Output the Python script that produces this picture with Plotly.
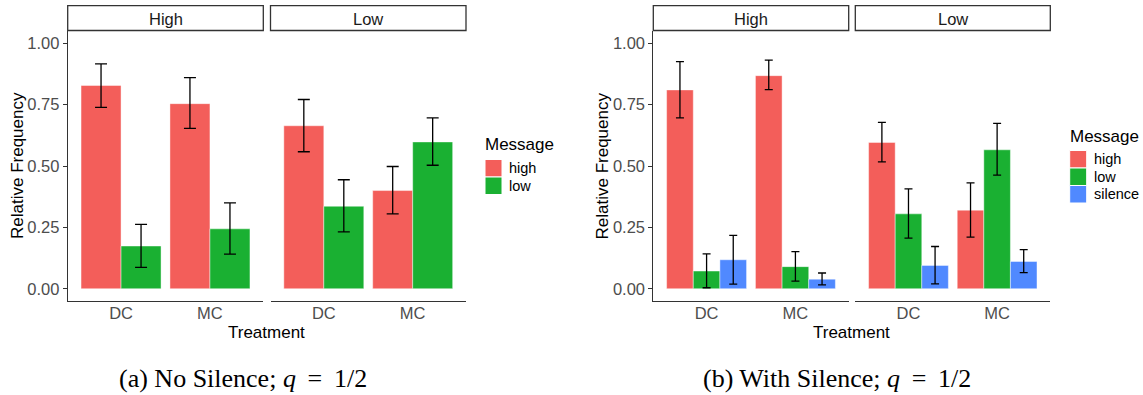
import plotly.graph_objects as go

# ---------------- data ----------------
panels = ["High", "Low"]
treatments = ["DC", "MC"]
messages_a = ["high", "low"]
messages_b = ["high", "low", "silence"]

# order of each list: [High-DC, High-MC, Low-DC, Low-MC]
# (a) No Silence
a_high = [0.828, 0.754, 0.664, 0.400]
a_high_up = [0.916, 0.860, 0.771, 0.498]
a_high_lo = [0.739, 0.653, 0.558, 0.305]
a_low = [0.174, 0.244, 0.336, 0.598]
a_low_up = [0.262, 0.350, 0.444, 0.696]
a_low_lo = [0.087, 0.141, 0.232, 0.503]

# (b) With Silence
b_high = [0.810, 0.868, 0.596, 0.320]
b_high_up = [0.925, 0.931, 0.678, 0.431]
b_high_lo = [0.696, 0.811, 0.517, 0.210]
b_low = [0.072, 0.090, 0.305, 0.566]
b_low_up = [0.142, 0.151, 0.407, 0.674]
b_low_lo = [0.004, 0.031, 0.206, 0.463]
b_silence = [0.118, 0.039, 0.095, 0.111]
b_silence_up = [0.217, 0.064, 0.172, 0.159]
b_silence_lo = [0.019, 0.016, 0.020, 0.066]

y_ticks = [0, 0.25, 0.5, 0.75, 1.0]
y_ticktext = ["0.00", "0.25", "0.50", "0.75", "1.00"]
captions = ["(a) No Silence; <i>q</i>\u2009 = \u20091/2", "(b) With Silence; <i>q</i>\u2009 = \u20091/2"]

colors = {"high": "#F35E5A", "low": "#1AB032", "silence": "#5089FF"}

# ---------------- layout helpers ----------------
W, H = 1143, 395
def px(x):
    return x / W
def py(y):
    return 1 - y / H

FONT = "Liberation Sans, Arial, sans-serif"
TICKC = "#4D4D4D"
LINEC = "#333333"

fig = go.Figure()

# chart (a): x, x2 with y ; chart (b): x3, x4 with y2
charts = [
    dict(msgs=messages_a,
         vals={"high": (a_high, a_high_up, a_high_lo), "low": (a_low, a_low_up, a_low_lo)},
         xaxes=["x", "x2"], yaxis="y", capw=6,
         xdom=[(67.7, 263.3), (270.5, 466.0)]),
    dict(msgs=messages_b,
         vals={"high": (b_high, b_high_up, b_high_lo), "low": (b_low, b_low_up, b_low_lo),
               "silence": (b_silence, b_silence_up, b_silence_lo)},
         xaxes=["x3", "x4"], yaxis="y2", capw=4,
         xdom=[(653.3, 848.7), (855.3, 1050.3)]),
]

for ch in charts:
    for pi, panel in enumerate(panels):
        for m in ch["msgs"]:
            v, up, lo = ch["vals"][m]
            vv = v[pi * 2: pi * 2 + 2]
            uu = up[pi * 2: pi * 2 + 2]
            ll = lo[pi * 2: pi * 2 + 2]
            fig.add_trace(go.Bar(
                x=treatments, y=vv, name=m, showlegend=False,
                xaxis=ch["xaxes"][pi], yaxis=ch["yaxis"],
                marker=dict(color=colors[m], line=dict(color="rgba(255,255,255,0.55)", width=0.8)),
                error_y=dict(type="data", symmetric=False,
                             array=[u - a for u, a in zip(uu, vv)],
                             arrayminus=[a - l for a, l in zip(vv, ll)],
                             color="black", thickness=1.3, width=ch["capw"]),
            ))

y_top, y_bot = 31, 301
ydom = [py(y_bot), py(y_top)]

xcommon = dict(type="category", categoryorder="array", categoryarray=treatments,
               range=[-0.6, 1.6], showgrid=False, zeroline=False, showline=True,
               linecolor=LINEC, linewidth=1, ticks="", ticklen=0, ticklabelstandoff=-3,
               tickfont=dict(family=FONT, size=16.5, color=TICKC), fixedrange=True)
ycommon = dict(range=[-0.05, 1.05], domain=ydom, tickvals=y_ticks, ticktext=y_ticktext,
               showgrid=False, zeroline=False, showline=True, linecolor=LINEC, linewidth=1,
               ticks="outside", ticklen=4, tickcolor=LINEC,
               tickfont=dict(family=FONT, size=16.5, color=TICKC), fixedrange=True)

fig.update_layout(
    xaxis=dict(xcommon, domain=[px(67.7), px(263.3)], anchor="y"),
    xaxis2=dict(xcommon, domain=[px(270.5), px(466.0)], anchor="y"),
    xaxis3=dict(xcommon, domain=[px(653.3), px(848.7)], anchor="y2"),
    xaxis4=dict(xcommon, domain=[px(855.3), px(1050.3)], anchor="y2"),
    yaxis=dict(ycommon, anchor="x"),
    yaxis2=dict(ycommon, anchor="x3"),
    barmode="group", bargap=0.1, bargroupgap=0,
    width=W, height=H, autosize=False,
    margin=dict(l=0, r=0, t=0, b=0),
    paper_bgcolor="white", plot_bgcolor="white",
    font=dict(family=FONT),
)

shapes = []
annotations = []

# strips
for ch in charts:
    for pi, panel in enumerate(panels):
        x0, x1 = ch["xdom"][pi]
        shapes.append(dict(type="rect", xref="paper", yref="paper",
                           x0=px(x0), x1=px(x1), y0=py(30.5), y1=py(5.7),
                           line=dict(color=LINEC, width=1.3), fillcolor="white", layer="above"))
        annotations.append(dict(text=panel, xref="paper", yref="paper",
                                x=px((x0 + x1) / 2), y=py(18.5), showarrow=False,
                                xanchor="center", yanchor="middle",
                                font=dict(family=FONT, size=16.5, color="#1A1A1A")))
    # axis titles
    xl = ch["xdom"][0][0]
    xr = ch["xdom"][1][1]
    annotations.append(dict(text="Treatment", xref="paper", yref="paper",
                            x=px((xl + xr) / 2), y=py(332), showarrow=False,
                            xanchor="center", yanchor="middle",
                            font=dict(family=FONT, size=17, color="black")))

annotations.append(dict(text="Relative Frequency", xref="paper", yref="paper",
                        x=px(17), y=py((y_top + y_bot) / 2), showarrow=False, textangle=-90,
                        xanchor="center", yanchor="middle",
                        font=dict(family=FONT, size=17, color="black")))
annotations.append(dict(text="Relative Frequency", xref="paper", yref="paper",
                        x=px(601.5), y=py((y_top + y_bot) / 2), showarrow=False, textangle=-90,
                        xanchor="center", yanchor="middle",
                        font=dict(family=FONT, size=17, color="black")))

# legends (drawn manually, ggplot style)
legends = [
    dict(msgs=messages_a, title_x=484, title_y=145, key_x=485, key_y0=159.5, label_x=508),
    dict(msgs=messages_b, title_x=1068.7, title_y=136, key_x=1069.7, key_y0=150.5, label_x=1093),
]
KEY = 17.5
for lg in legends:
    annotations.append(dict(text="Message", xref="paper", yref="paper",
                            x=px(lg["title_x"] - 1), y=py(lg["title_y"]), showarrow=False,
                            xanchor="left", yanchor="middle",
                            font=dict(family=FONT, size=17, color="black")))
    for i, m in enumerate(lg["msgs"]):
        y0 = lg["key_y0"] + i * KEY
        shapes.append(dict(type="rect", xref="paper", yref="paper",
                           x0=px(lg["key_x"]), x1=px(lg["key_x"] + 17),
                           y0=py(y0 + KEY), y1=py(y0),
                           line=dict(color="white", width=1), fillcolor=colors[m]))
        annotations.append(dict(text=m, xref="paper", yref="paper",
                                x=px(lg["label_x"] - 1), y=py(y0 + KEY / 2), showarrow=False,
                                xanchor="left", yanchor="middle",
                                font=dict(family=FONT, size=14.5, color="black")))

# captions
for cx, cap in zip([242.5, 837], captions):
    annotations.append(dict(text=cap, xref="paper", yref="paper",
                            x=px(cx), y=py(378), showarrow=False,
                            xanchor="center", yanchor="middle",
                            font=dict(family="Liberation Serif, Times New Roman, serif",
                                      size=26, color="black")))

fig.update_layout(shapes=shapes, annotations=annotations)
fig.write_html("out.html", config={"displayModeBar": False},
               post_script="document.body.style.margin='0px';")
